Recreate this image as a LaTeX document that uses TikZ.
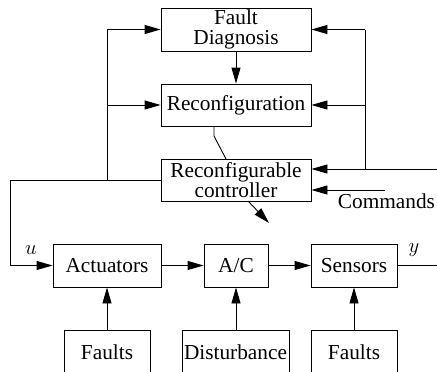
\documentclass[tikz,border=0pt]{standalone}
\usepackage{fontspec}
\setmainfont{Liberation Serif}
\usetikzlibrary{arrows.meta}
\begin{document}
\begin{tikzpicture}[x=1pt,y=-1pt,
  line width=0.9pt,
  box/.style={draw,rectangle,inner sep=0pt,align=center,
    font=\fontsize{21.3}{20}\selectfont},
  lbl/.style={inner sep=0pt,font=\fontsize{21.3}{20}\selectfont},
  arr/.style={-{Triangle[length=16pt,width=9pt]}}]
\useasboundingbox (0,0) rectangle (437,372);
\clip (0,0) rectangle (437,372);
% boxes
\node[box,minimum width=150pt,minimum height=43pt] (fd) at (236,29.5) {Fault\\Diagnosis};
\node[box,minimum width=150pt,minimum height=42pt] (rec) at (236,105) {Reconfiguration};
\node[box,minimum width=150pt,minimum height=42pt] (ctrl) at (236,180) {Reconfigurable\\controller};
\node[box,minimum width=108pt,minimum height=43pt] (act) at (107,265.5) {Actuators};
\node[box,minimum width=64pt,minimum height=43pt] (ac) at (236,265.5) {A/C};
\node[box,minimum width=86pt,minimum height=43pt] (sen) at (354,265.5) {Sensors};
\node[box,minimum width=86pt,minimum height=44pt] (fl) at (107,352) {Faults};
\node[box,minimum width=107pt,minimum height=44pt] (dist) at (235.5,352) {Disturbance};
\node[box,minimum width=86pt,minimum height=44pt] (fr) at (354,352) {Faults};
% coordinates
\coordinate (lt) at (107,29.5);
\coordinate (lm) at (107,105);
\coordinate (lb) at (107,180);
\coordinate (ll) at (10,180);
\coordinate (lu) at (10,265.5);
\coordinate (rt) at (365,29.5);
\coordinate (rm) at (365,105);
\coordinate (rb) at (365,169);
\coordinate (rr) at (437,169);
\coordinate (cm) at (385,190);
\coordinate (yo) at (437,265.5);
\coordinate (r1) at (214,126);
\coordinate (r2) at (214,136);
\coordinate (r3) at (226,159);
\coordinate (d0) at (248,201);
\coordinate (d1) at (269,223);
% connectors
\draw[arr] (fd) -- (rec);
\draw (ctrl.west) -- (ll) -- (lu);
\draw[arr] (lu) -- (act.west);
\draw (lb) -- (lt);
\draw[arr] (lt) -- (fd.west);
\draw[arr] (lm) -- (rec.west);
\draw[arr] (rr) -- (ctrl.east |- rr);
\draw (rb) -- (rt);
\draw[arr] (rt) -- (fd.east);
\draw[arr] (rm) -- (rec.east);
\draw[arr] (cm) -- (ctrl.east |- cm);
\draw (r1) -- (r2) -- (r3);
\draw[arr] (d0) -- (d1);
\draw[arr] (act) -- (ac);
\draw[arr] (ac) -- (sen);
\draw (sen.east) -- (yo);
\draw[arr] (fl) -- (act);
\draw[arr] (dist.north -| ac) -- (ac);
\draw[arr] (fr) -- (sen);
% labels
\node[lbl] (cmdtxt) at (386.5,201) {Commands};
\node[lbl] (ulab) at (31,250) {$u$};
\node[lbl] (ylab) at (414,250) {$y$};
\end{tikzpicture}
\end{document}
